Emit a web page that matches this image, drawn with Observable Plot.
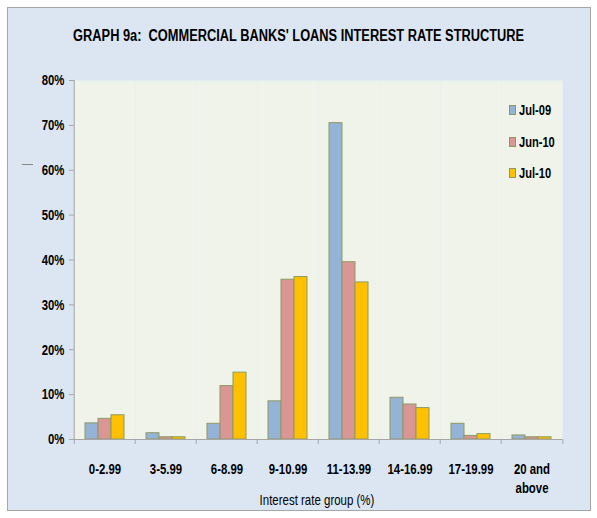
<!DOCTYPE html>
<html>
<head>
<meta charset="utf-8">
<script src="https://cdn.jsdelivr.net/npm/d3@7"></script>
<script src="https://cdn.jsdelivr.net/npm/@observablehq/plot@0.6"></script>
<style>
  html, body { margin: 0; padding: 0; background: #ffffff; }
  #wrap { position: relative; width: 597px; height: 518px; overflow: hidden; }
  .f { font-family: "Liberation Sans", Arial, sans-serif; }
  #panel { position: absolute; left: 7px; top: 7px; width: 582px; height: 502px; background: #dce6f2; border: 1px solid #a6a6a6; }
  #title { position: absolute; left: 0; width: 597px; top: 26px; text-align: center; font-weight: bold; font-size: 16px; color: #000; line-height: 20px; }
  #title span { display: inline-block; white-space: pre; transform-origin: center; }
  #chart { position: absolute; left: 0; top: 0; }
  #xlabel { position: absolute; left: 217px; width: 200px; top: 491px; text-align: center; font-size: 15px; line-height: 18px; color: #000; transform: scaleX(0.765); transform-origin: center; }
  #legend { position: absolute; left: 509px; top: 101px; }
  .row { position: absolute; left: 0; height: 18px; white-space: nowrap; font-weight: bold; font-size: 15px; line-height: 18px; color: #000; }
  .sw { position: absolute; left: 0; top: 4px; width: 5px; height: 8px; border: 1px solid #8c9a62; }
  .lab { position: absolute; left: 10px; top: 0; transform: scaleX(0.74); transform-origin: left center; }
  #dash { position: absolute; left: 22px; top: 164px; width: 11px; height: 1px; background: #8a8a8a; }
</style>
</head>
<body>
<div id="wrap">
  <div id="panel"></div>
  <div id="dash"></div>
  <div id="title" class="f"><span></span></div>
  <div id="chart"></div>
  <div id="xlabel" class="f"></div>
  <div id="legend" class="f"></div>
</div>
<script>
const titleText = "GRAPH 9a:  COMMERCIAL BANKS' LOANS INTEREST RATE STRUCTURE";
const xTitle = "Interest rate group (%)";
const categories = ["0-2.99", "3-5.99", "6-8.99", "9-10.99", "11-13.99", "14-16.99", "17-19.99", "20 and above"];
const categoryLabels = ["0-2.99", "3-5.99", "6-8.99", "9-10.99", "11-13.99", "14-16.99", "17-19.99", "20 and\nabove"];
const series = ["Jul-09", "Jun-10", "Jul-10"];
const jul09 = [3.6, 1.4, 3.5, 8.5, 70.5, 9.3, 3.5, 0.9];
const jun10 = [4.6, 0.5, 11.9, 35.6, 39.5, 7.8, 0.8, 0.5];
const jul10 = [5.4, 0.5, 14.9, 36.2, 35.0, 7.0, 1.2, 0.5];
const colors = ["#95b3d7", "#d99694", "#ffc000"];
const yTicks = [0, 10, 20, 30, 40, 50, 60, 70, 80];

const seriesValues = [jul09, jun10, jul10];
const table = categories.flatMap((c, i) => series.map((s, j) => ({category: c, series: s, value: seriesValues[j][i]})));
const labelOf = new Map(categories.map((c, i) => [c, categoryLabels[i]]));

const FONT = '"Liberation Sans", Arial, sans-serif';
const TEXT_SQUEEZE = 0.76;
const W = 597, H = 518, mL = 71, mR = 33, mT = 80, mB = 79;
const step = (W - mL - mR) / categories.length;
const axisGray = "#a6a6a6";
const outline = "#8c9a62";

const chart = Plot.plot({
  width: W, height: H,
  marginLeft: mL, marginRight: mR, marginTop: mT, marginBottom: mB,
  style: {fontFamily: FONT, fontSize: "15px", fontWeight: "bold", background: "transparent", color: "#000", overflow: "visible"},
  fx: {domain: categories, padding: 0, label: null},
  x: {domain: series, paddingInner: 0, paddingOuter: 0.75, axis: null},
  y: {domain: [0, 80], label: null},
  color: {domain: series, range: colors},
  marks: [
    Plot.frame({fill: "#eff3e9", stroke: null}),
    Plot.barY(table, {fx: "category", x: "series", y: "value", fill: "series", stroke: outline, strokeWidth: 1}),
    Plot.ruleY([0], {stroke: axisGray}),
    Plot.ruleX([categories[0]], {fx: d => d, x: null, dx: -step / 2, y1: 0, y2: 80, stroke: axisGray}),
    Plot.ruleX(categories, {fx: d => d, x: null, dx: -step / 2, y1: 0, y2: 0, insetBottom: -5, stroke: axisGray}),
    Plot.ruleX([categories[categories.length - 1]], {fx: d => d, x: null, dx: step / 2, y1: 0, y2: 0, insetBottom: -5, stroke: axisGray}),
    Plot.axisY({ticks: yTicks, tickSize: 5, tickPadding: 5, tickFormat: d => d + "%", stroke: axisGray, fill: "#000", label: null}),
    Plot.axisFx({anchor: "bottom", tickSize: 0, tickPadding: 21, tickFormat: d => labelOf.get(d), lineHeight: 1.27, label: null, fill: "#000"})
  ]
});
// squeeze the axis text horizontally to mimic the condensed face of the original
chart.querySelectorAll("text").forEach(t => {
  const tr = t.getAttribute("transform") || "";
  t.setAttribute("transform", (tr + " scale(" + TEXT_SQUEEZE + ",1)").trim());
});
document.getElementById("chart").appendChild(chart);

const tspan = document.querySelector("#title span");
tspan.textContent = titleText;
const natural = tspan.getBoundingClientRect().width;
tspan.style.transform = "scaleX(" + (451 / natural) + ")";

document.getElementById("xlabel").textContent = xTitle;

const legend = document.getElementById("legend");
const rowTops = [0, 32, 63];
series.forEach((s, i) => {
  const row = document.createElement("div");
  row.className = "row";
  row.style.top = rowTops[i] + "px";
  const sw = document.createElement("div");
  sw.className = "sw";
  sw.style.background = colors[i];
  const lab = document.createElement("div");
  lab.className = "lab";
  lab.textContent = s;
  row.appendChild(sw);
  row.appendChild(lab);
  legend.appendChild(row);
});
</script>
</body>
</html>
